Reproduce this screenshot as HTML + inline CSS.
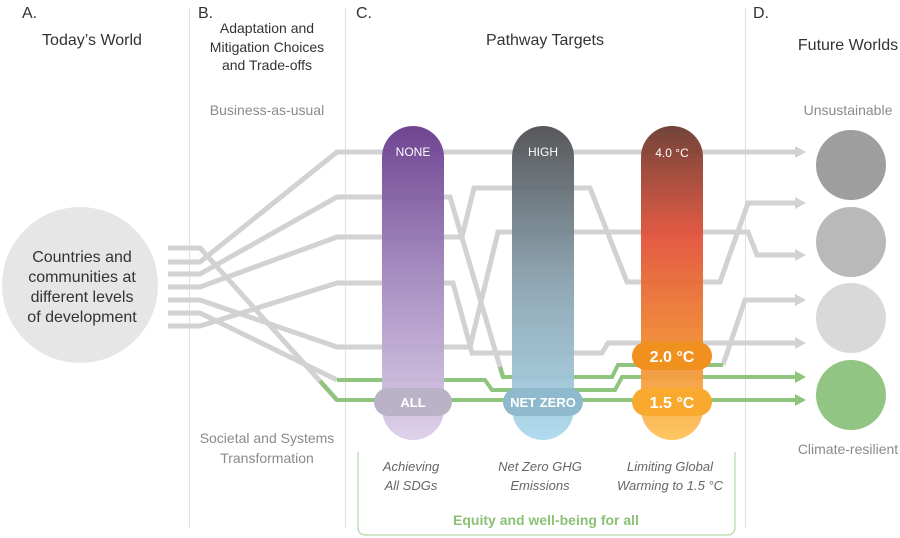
<!DOCTYPE html>
<html><head><meta charset="utf-8"><style>
html,body{margin:0;padding:0;background:#fff;}
svg{display:block;font-family:"Liberation Sans",Arial,sans-serif;}
</style></head><body>
<svg width="900" height="538" viewBox="0 0 900 538">
<defs>
<linearGradient id="gp" x1="0" y1="0" x2="0" y2="1"><stop offset="0" stop-color="#683b8c"/><stop offset="0.5" stop-color="#a58cc0"/><stop offset="1" stop-color="#dccfe8"/></linearGradient>
<linearGradient id="gb" x1="0" y1="0" x2="0" y2="1"><stop offset="0" stop-color="#4f4f52"/><stop offset="0.5" stop-color="#8aa3b0"/><stop offset="1" stop-color="#acd9ee"/></linearGradient>
<linearGradient id="go" x1="0" y1="0" x2="0" y2="1"><stop offset="0" stop-color="#6b3a30"/><stop offset="0.35" stop-color="#e2523a"/><stop offset="0.7" stop-color="#f08a32"/><stop offset="1" stop-color="#fec45a"/></linearGradient>
<marker id="ar" markerWidth="12" markerHeight="14" refX="2" refY="7" orient="auto" markerUnits="userSpaceOnUse"><path d="M0,1 L11,7 L0,13z" fill="#d2d2d2"/></marker>
<marker id="ag" markerWidth="12" markerHeight="14" refX="2" refY="7" orient="auto" markerUnits="userSpaceOnUse"><path d="M0,1 L11,7 L0,13z" fill="#8fc47c"/></marker>
</defs>

<g stroke="#e0e0e0" stroke-width="1">
<line x1="189.5" y1="8" x2="189.5" y2="528"/><line x1="345.5" y1="8" x2="345.5" y2="528"/><line x1="745.5" y1="8" x2="745.5" y2="528"/>
</g>

<g font-size="16" fill="#333">
<text x="22" y="18">A.</text>
<text x="92" y="45" text-anchor="middle">Today’s World</text>
<text x="198" y="18">B.</text>
<text x="267" y="33" text-anchor="middle" font-size="14">Adaptation and</text>
<text x="267" y="52" text-anchor="middle" font-size="14">Mitigation Choices</text>
<text x="267" y="70" text-anchor="middle" font-size="14">and Trade-offs</text>
<text x="356" y="18">C.</text>
<text x="545" y="45" text-anchor="middle">Pathway Targets</text>
<text x="753" y="18">D.</text>
<text x="848" y="50" text-anchor="middle">Future Worlds</text>
</g>
<g font-size="14" fill="#8a8a8a" text-anchor="middle">
<text x="267" y="115">Business-as-usual</text>
<text x="267" y="443">Societal and Systems</text>
<text x="267" y="463">Transformation</text>
<text x="848" y="115">Unsustainable</text>
<text x="848" y="454">Climate-resilient</text>
</g>

<circle cx="80" cy="285" r="78" fill="#e6e6e6"/>
<g font-size="16" fill="#333" text-anchor="middle">
<text x="82" y="262">Countries and</text><text x="82" y="282">communities at</text><text x="82" y="302">different levels</text><text x="82" y="322">of development</text>
</g>

<g fill="none" stroke="#d2d2d2" stroke-width="5" stroke-linejoin="miter">
<polyline points="168,262 200,262 337,152 797,152" marker-end="url(#ar)"/>
<polyline points="168,274 200,274 337,197 450,197 503,377"/>
<polyline points="723,365 745,300 797,300" marker-end="url(#ar)"/>
<polyline points="168,287 200,287 337,237 462,237 474,188 590,188 627,282 720,282 748,203 797,203" marker-end="url(#ar)"/>
<polyline points="168,300 200,300 337,347 470,347 498,232 748,232 757,255 797,255" marker-end="url(#ar)"/>
<polyline points="168,326 200,326 337,283 453,283 472,353 602,353 608,343 797,343" marker-end="url(#ar)"/>
<polyline points="168,248 200,248 337,400"/>
<polyline points="168,313 200,313 337,380"/>
</g>
<g fill="none" stroke="#8fc47c" stroke-width="4">
<polyline points="500,367 503,377 612,377 618,365 723,365"/>
<polyline points="337,380 485,380 492,390 615,390 622,377 797,377" marker-end="url(#ag)"/>
<polyline points="320,381 337,400 797,400" marker-end="url(#ag)"/>
</g>

<g>
<rect x="382" y="126" width="62" height="314" rx="31" fill="url(#gp)" opacity="0.95"/>
<rect x="374" y="388" width="78" height="28" rx="14" fill="#bab3c8"/>
<text x="413" y="156" fill="#fff" font-size="12" text-anchor="middle">NONE</text>
<text x="413" y="407" fill="#fff" font-size="13" font-weight="bold" text-anchor="middle">ALL</text>
</g>
<g>
<rect x="512" y="126" width="62" height="314" rx="31" fill="url(#gb)" opacity="0.95"/>
<rect x="503" y="388" width="80" height="28" rx="14" fill="#8fb9cc"/>
<text x="543" y="156" fill="#fff" font-size="12" text-anchor="middle">HIGH</text>
<text x="543" y="407" fill="#fff" font-size="13" font-weight="bold" text-anchor="middle">NET ZERO</text>
</g>
<g>
<rect x="641" y="126" width="62" height="314" rx="31" fill="url(#go)" opacity="0.95"/>
<rect x="632" y="342" width="80" height="28" rx="14" fill="#f0901e"/>
<rect x="632" y="388" width="80" height="28" rx="14" fill="#f9a92e"/>
<text x="672" y="157" fill="#fff" font-size="12" text-anchor="middle">4.0 °C</text>
<text x="672" y="362" fill="#fff" font-size="16" font-weight="bold" text-anchor="middle">2.0 °C</text>
<text x="672" y="408" fill="#fff" font-size="16" font-weight="bold" text-anchor="middle">1.5 °C</text>
</g>

<g>
<circle cx="851" cy="165" r="35" fill="#9e9e9e"/>
<circle cx="851" cy="242" r="35" fill="#b9b9b9"/>
<circle cx="851" cy="318" r="35" fill="#d9d9d9"/>
<circle cx="851" cy="395" r="35" fill="#92c583"/>
</g>

<g font-size="13" font-style="italic" fill="#666" text-anchor="middle">
<text x="411" y="471">Achieving</text><text x="411" y="490">All SDGs</text>
<text x="540" y="471">Net Zero GHG</text><text x="540" y="490">Emissions</text>
<text x="670" y="471">Limiting Global</text><text x="670" y="490">Warming to 1.5 °C</text>
</g>
<path d="M358,452 L358,527 Q358,535 366,535 L727,535 Q735,535 735,527 L735,452" fill="none" stroke="#b5d8a6" stroke-width="1.2"/>
<text x="546" y="525" font-size="14" font-weight="bold" fill="#8cc076" text-anchor="middle">Equity and well-being for all</text>
</svg>
</body></html>
